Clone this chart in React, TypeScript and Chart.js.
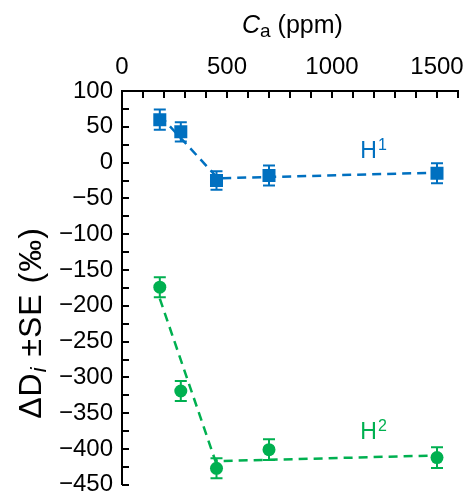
import React, { useEffect, useRef } from "react";
import { Chart, registerables } from "chart.js";

Chart.register(...registerables);

// ---- data ----
const caPpm = [180, 280, 450, 700, 1500];
const h1Values = [60, 43, -25, -18, -15];
const h1SE = [14, 13.5, 13, 14, 14];
const h2Values = [-174, -319, -427, -401, -412];
const h2SE = [14, 14, 14, 14.5, 14.5];
const h1FitX = [180, 457, 1500];
const h1FitY = [66, -22, -14];
const h2FitX = [180, 445, 1500];
const h2FitY = [-190, -417, -409];
const xTickLabels = [0, 500, 1000, 1500];
const xMin = 0;
const xMax = 1600;
const xMinorStep = 100;
const yMin = -450;
const yMax = 100;
const yStep = 50;
const yMinorStep = 25;
const h1LabelPos = [1135, 6];
const h2LabelPos = [1135, -386];

const BLUE = "#0070C0";
const GREEN = "#00B050";
const FONT = "'Liberation Sans', Arial, sans-serif";

const customPlugin = {
  id: "customDraw",
  beforeDatasetsDraw(chart: any) {
    const { ctx } = chart;
    const x = chart.scales.x;
    const y = chart.scales.y;
    const drawErr = (vals: number[], se: number[], color: string) => {
      ctx.save();
      ctx.strokeStyle = color;
      ctx.lineWidth = 2;
      vals.forEach((v, i) => {
        const px = x.getPixelForValue(caPpm[i]);
        const top = y.getPixelForValue(v + se[i]);
        const bot = y.getPixelForValue(v - se[i]);
        ctx.beginPath();
        ctx.moveTo(px, top);
        ctx.lineTo(px, bot);
        ctx.moveTo(px - 6, top);
        ctx.lineTo(px + 6, top);
        ctx.moveTo(px - 6, bot);
        ctx.lineTo(px + 6, bot);
        ctx.stroke();
      });
      ctx.restore();
    };
    drawErr(h1Values, h1SE, BLUE);
    drawErr(h2Values, h2SE, GREEN);
  },
  afterDraw(chart: any) {
    const { ctx, chartArea } = chart;
    const x = chart.scales.x;
    const y = chart.scales.y;
    ctx.save();
    // inward tick marks
    ctx.strokeStyle = "#000";
    ctx.lineWidth = 2;
    ctx.beginPath();
    for (let v = xMin; v <= xMax; v += xMinorStep) {
      const px = Math.round(x.getPixelForValue(v));
      ctx.moveTo(px, chartArea.top);
      ctx.lineTo(px, chartArea.top + 7);
    }
    for (let v = yMin; v <= yMax; v += yMinorStep) {
      const py = Math.round(y.getPixelForValue(v));
      ctx.moveTo(chartArea.left, py);
      ctx.lineTo(chartArea.left + 7, py);
    }
    ctx.stroke();

    // x title: C_a (ppm)
    ctx.fillStyle = "#000";
    ctx.textBaseline = "alphabetic";
    ctx.textAlign = "left";
    let cx = 242;
    const by = 33;
    ctx.font = `italic 25px ${FONT}`;
    ctx.fillText("C", cx, by);
    cx += ctx.measureText("C").width;
    ctx.font = `19px ${FONT}`;
    ctx.fillText("a", cx, by + 4);
    cx += ctx.measureText("a").width;
    ctx.font = `25px ${FONT}`;
    ctx.fillText(" (ppm)", cx, by);

    // y title: ΔD_i ±SE (‰)
    ctx.save();
    ctx.translate(41, 323);
    ctx.rotate(-Math.PI / 2);
    (ctx as any).letterSpacing = "1px";
    const big = `32px ${FONT}`;
    const sub = `italic 22px ${FONT}`;
    ctx.font = big;
    const w1 = ctx.measureText("\u0394D").width;
    const w3 = ctx.measureText(" \u00B1SE (\u2030)").width;
    ctx.font = sub;
    const w2 = ctx.measureText("i").width;
    let sx = -(w1 + w2 + w3) / 2;
    ctx.font = big;
    ctx.fillText("\u0394D", sx, 0);
    sx += w1;
    ctx.font = sub;
    ctx.fillText("i", sx, 5);
    sx += w2;
    ctx.font = big;
    ctx.fillText(" \u00B1SE (\u2030)", sx, 0);
    (ctx as any).letterSpacing = "0px";
    ctx.restore();

    // series labels
    const drawLabel = (pos: number[], sup: string, color: string) => {
      const px = x.getPixelForValue(pos[0]);
      const py = y.getPixelForValue(pos[1]);
      ctx.fillStyle = color;
      ctx.font = `23px ${FONT}`;
      ctx.fillText("H", px, py);
      const hw = ctx.measureText("H").width;
      ctx.font = `16px ${FONT}`;
      ctx.fillText(sup, px + hw + 1, py - 8);
    };
    drawLabel(h1LabelPos, "1", BLUE);
    drawLabel(h2LabelPos, "2", GREEN);
    ctx.restore();
  },
};

function fmt(v: number) {
  return v < 0 ? "\u2212" + Math.abs(v) : String(v);
}

export default function App() {
  const ref = useRef<HTMLCanvasElement>(null);
  useEffect(() => {
    if (!ref.current) return;
    const chart = new Chart(ref.current, {
      type: "scatter",
      data: {
        datasets: [
          {
            label: "H1",
            data: caPpm.map((c, i) => ({ x: c, y: h1Values[i] })),
            backgroundColor: BLUE,
            borderColor: BLUE,
            pointStyle: "rect",
            pointRadius: 9.2,
            borderWidth: 0,
            showLine: false,
            order: 0,
          },
          {
            label: "H2",
            data: caPpm.map((c, i) => ({ x: c, y: h2Values[i] })),
            backgroundColor: GREEN,
            borderColor: GREEN,
            pointStyle: "circle",
            pointRadius: 6.5,
            borderWidth: 0,
            showLine: false,
            order: 0,
          },
          {
            label: "H1 fit",
            data: h1FitX.map((c, i) => ({ x: c, y: h1FitY[i] })),
            borderColor: BLUE,
            borderWidth: 2.5,
            borderDash: [9, 6],
            pointRadius: 0,
            showLine: true,
            fill: false,
            order: 1,
          },
          {
            label: "H2 fit",
            data: h2FitX.map((c, i) => ({ x: c, y: h2FitY[i] })),
            borderColor: GREEN,
            borderWidth: 2.5,
            borderDash: [9, 6],
            pointRadius: 0,
            showLine: true,
            fill: false,
            order: 1,
          },
        ] as any,
      },
      options: {
        animation: false,
        responsive: false,
        layout: { padding: { left: 0, top: 0, right: 17, bottom: 8 } },
        plugins: { legend: { display: false }, tooltip: { enabled: false }, title: { display: false } },
        scales: {
          x: {
            type: "linear",
            position: "top",
            min: xMin,
            max: xMax,
            grid: { display: false, drawTicks: false },
            border: { display: true, color: "#000", width: 2 },
            afterBuildTicks: (axis: any) => {
              axis.ticks = xTickLabels.map((v) => ({ value: v }));
            },
            afterFit: (scale: any) => {
              scale.height = 91;
              scale.paddingLeft = 0;
              scale.paddingRight = 0;
            },
            ticks: {
              autoSkip: false,
              maxRotation: 0,
              padding: 9,
              color: "#000",
              font: { family: FONT, size: 24 },
              callback: (v: any) => String(v),
            },
          },
          y: {
            type: "linear",
            position: "left",
            min: yMin,
            max: yMax,
            grid: { display: false, drawTicks: false },
            border: { display: true, color: "#000", width: 2 },
            afterFit: (scale: any) => {
              scale.width = 122;
              scale.paddingTop = 0;
              scale.paddingBottom = 0;
            },
            ticks: {
              stepSize: yStep,
              autoSkip: false,
              padding: 9,
              color: "#000",
              font: { family: FONT, size: 24 },
              callback: (v: any) => fmt(Number(v)),
            },
          },
        },
      } as any,
      plugins: [customPlugin],
    });
    return () => chart.destroy();
  }, []);
  return (
    <div style={{ position: "fixed", left: 0, top: 0, width: 475, height: 494, background: "#fff" }}>
      <canvas ref={ref} width={475} height={494} style={{ width: 475, height: 494, display: "block" }} />
    </div>
  );
}
